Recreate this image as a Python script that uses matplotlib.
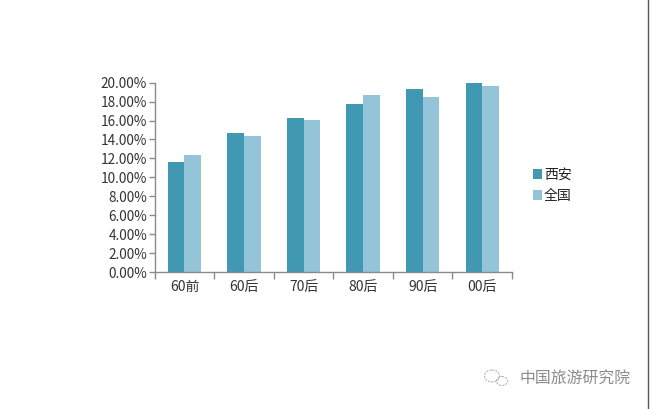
import matplotlib
matplotlib.use('Agg')
import matplotlib.pyplot as plt
from matplotlib.patches import Ellipse
import numpy as np

plt.rcParams['font.family'] = ['Noto Sans CJK SC', 'DejaVu Sans']

# dados
categorias = ['60前', '60后', '70后', '80后', '90后', '00后']
xian = [11.6, 14.65, 16.25, 17.8, 19.3, 20.0]
quanguo = [12.35, 14.4, 16.1, 18.65, 18.5, 19.7]
ticks_y = [0, 2, 4, 6, 8, 10, 12, 14, 16, 18, 20]

W, H = 650, 409
COR_ESCURA = '#4198b2'
COR_CLARA = '#93c4d8'
COR_EIXO = '#8a8a8a'
COR_TEXTO = '#333333'

fig = plt.figure(figsize=(W / 100, H / 100), dpi=100)
ax = fig.add_axes([154.7 / W, 1 - 272 / H, (512 - 154.7) / W, (272 - 82.7) / H])

x = np.arange(len(categorias))
largura = 0.28
ax.bar(x - largura / 2, xian, largura, color=COR_ESCURA, label='西安')
ax.bar(x + largura / 2, quanguo, largura, color=COR_CLARA, label='全国')

ax.set_xlim(-0.5, 5.5)
ax.set_ylim(0, 20)
ax.set_yticks(ticks_y)
ax.set_yticklabels([f'{v:.2f}%' for v in ticks_y])

# traços entre as categorias, rotulos centrados
ax.set_xticks(np.arange(-0.5, 6, 1))
ax.set_xticklabels([])
ax.set_xticks(x, minor=True)
ax.set_xticklabels(categorias, minor=True)
ax.tick_params(axis='x', which='major', length=5, width=1, color=COR_EIXO)
ax.tick_params(axis='x', which='minor', length=0, pad=6, labelsize=10, labelcolor=COR_TEXTO)
ax.tick_params(axis='y', length=4.5, width=1, color=COR_EIXO, pad=1, labelsize=9.8, labelcolor=COR_TEXTO)

for lado in ['top', 'right']:
    ax.spines[lado].set_visible(False)
for lado in ['left', 'bottom']:
    ax.spines[lado].set_color(COR_EIXO)
    ax.spines[lado].set_linewidth(1)

leg = ax.legend(loc='upper left', bbox_to_anchor=(533 / W, 1 - 167.5 / H), bbox_transform=fig.transFigure,
                frameon=False, fontsize=10, handlelength=0.65, handleheight=0.7, handletextpad=0.15,
                labelspacing=0.55, borderpad=0, borderaxespad=0, labelcolor='#222222')

# marca d'agua
fig.text(519.5 / W, 1 - 379 / H, '中国旅游研究院', fontsize=11.4, color='#8c8c8c', va='center', ha='left')
over = fig.add_axes([0, 0, 1, 1])
over.set_xlim(0, W)
over.set_ylim(H, 0)
over.axis('off')
over.patch.set_alpha(0)
over.add_patch(Ellipse((492, 376), 15, 12, fill=False, ec='#b5b5b5', lw=0.8, ls=(0, (2, 1))))
over.add_patch(Ellipse((502, 381), 11, 9, fill=False, ec='#b5b5b5', lw=0.8, ls=(0, (2, 1))))
over.plot([647.5, 647.5], [0, H], color='#555555', lw=1)

fig.savefig('out.png', dpi=100, facecolor='white')
